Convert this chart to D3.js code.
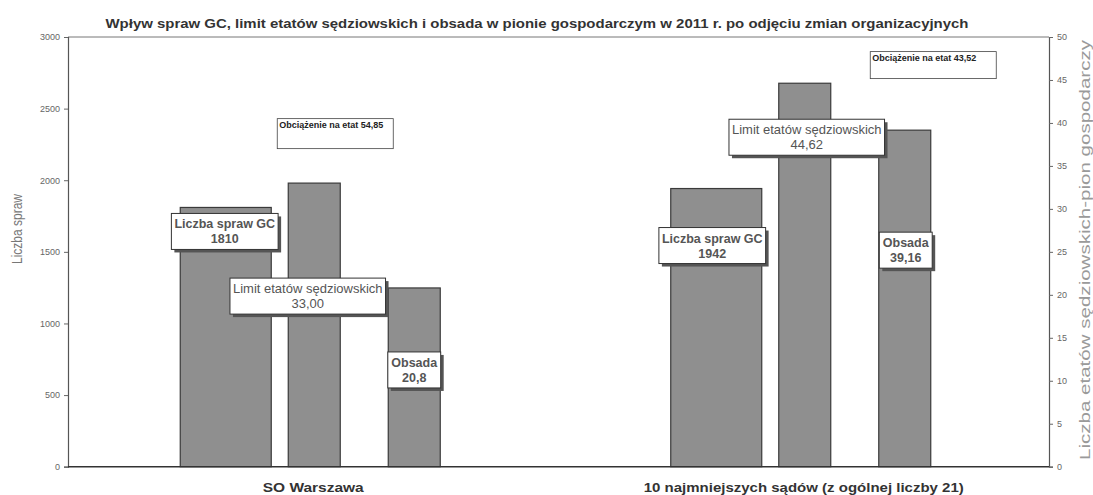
<!DOCTYPE html>
<html><head><meta charset="utf-8">
<script src="https://cdn.jsdelivr.net/npm/d3@7"></script>
<style>
html,body{margin:0;padding:0;background:#fff;}
text{font-family:"Liberation Sans",Arial,sans-serif;}
</style></head>
<body>
<svg id="chart" width="1093" height="495"></svg>
<script>
// ---- data ----
const categories = ["SO Warszawa", "10 najmniejszych sądów (z ogólnej liczby 21)"];
const sprawGC = [1810, 1942];            // left axis
const limitEtatow = [33.00, 44.62];      // right axis
const obsada = [20.8, 39.16];            // right axis
const obciazenie = [54.85, 43.52];
const leftTicks = [0, 500, 1000, 1500, 2000, 2500, 3000];
const rightTicks = [0, 5, 10, 15, 20, 25, 30, 35, 40, 45, 50];
const title = "Wpływ spraw GC, limit etatów sędziowskich i obsada w pionie gospodarczym w 2011 r. po odjęciu zmian organizacyjnych";
const leftTitle = "Liczba spraw";
const rightTitle = "Liczba etatów sędziowskich-pion gospodarczy";

// ---- layout / style ----
const M = {left: 68, right: 1049, top: 37, bottom: 466.7};
const svg = d3.select("#chart");
const x0 = d3.scaleBand().domain(categories).range([M.left, M.right]).padding(0);
const yL = d3.scaleLinear().domain([0, 3000]).range([M.bottom, M.top]);
const yR = d3.scaleLinear().domain([0, 50]).range([M.bottom, M.top]);

const series = [
  {name: "Liczba spraw GC", values: sprawGC, scale: yL, off: -133, w: 91, fmt: v => String(v), bold: true, fs: 12.5,
   lab: [[-1, 24], [-4, 57]]},
  {name: "Limit etatów sędziowskich", values: limitEtatow, scale: yR, off: -25, w: 52, fmt: v => v.toFixed(2).replace(".", ","), bold: false, fs: 13,
   lab: [[-6.5, 113], [2, 54]]},
  {name: "Obsada", values: obsada, scale: yR, off: 75, w: 52, fmt: v => String(v).replace(".", ","), bold: true, fs: 12.5,
   lab: [[0, 82], [1, 120]]}
];
const obcBoxes = [[-36, 2430, 116, 30], [66.5, 2898, 126, 27]]; // dx from band center, y in left-axis units, w, h
const catLabelLen = [101, 320];

// plot frame
svg.append("line").attr("x1", M.left).attr("x2", M.right).attr("y1", M.top).attr("y2", M.top).attr("stroke", "#777").attr("stroke-width", 1);

// bars
series.forEach(s => {
  svg.append("g").selectAll("rect").data(categories).join("rect")
    .attr("x", (c) => x0(c) + x0.bandwidth() / 2 + s.off)
    .attr("width", s.w)
    .attr("y", (c, i) => s.scale(s.values[i]))
    .attr("height", (c, i) => M.bottom - s.scale(s.values[i]))
    .attr("fill", "#8f8f8f")
    .attr("stroke", "#3a3a3a")
    .attr("stroke-width", 1.2);
});

// axes
const axL = svg.append("g").attr("transform", `translate(${M.left},0)`)
  .call(d3.axisLeft(yL).tickValues(leftTicks).tickSize(4).tickPadding(4).tickFormat(d3.format("d")));
const axR = svg.append("g").attr("transform", `translate(${M.right},0)`)
  .call(d3.axisRight(yR).tickValues(rightTicks).tickSize(4).tickPadding(4).tickFormat(d3.format("d")));
[axL, axR].forEach(a => {
  a.select(".domain").attr("stroke", "#555").attr("stroke-width", 1.2);
  a.selectAll(".tick line").attr("stroke", "#666");
  a.selectAll(".tick text").attr("fill", "#666").style("font-size", "9px").style("font-family", "'Liberation Sans',Arial,sans-serif");
});
// bottom axis line
svg.append("line").attr("x1", M.left).attr("x2", M.right).attr("y1", M.bottom).attr("y2", M.bottom).attr("stroke", "#333").attr("stroke-width", 1.5);

// category labels
svg.append("g").selectAll("text").data(categories).join("text")
  .attr("x", c => x0(c) + x0.bandwidth() / 2)
  .attr("y", 492)
  .attr("text-anchor", "middle")
  .attr("fill", "#333")
  .attr("textLength", (c, i) => catLabelLen[i])
  .attr("lengthAdjust", "spacingAndGlyphs")
  .style("font-size", "13.5px").style("font-weight", "bold")
  .text(c => c);

// title
svg.append("text").attr("x", 537).attr("y", 28).attr("text-anchor", "middle")
  .attr("textLength", 863).attr("lengthAdjust", "spacingAndGlyphs")
  .attr("fill", "#333").style("font-size", "13.5px").style("font-weight", "bold").text(title);

// axis titles
svg.append("text").attr("transform", `translate(22,229) rotate(-90)`)
  .attr("text-anchor", "middle").attr("fill", "#777")
  .attr("textLength", 70).attr("lengthAdjust", "spacingAndGlyphs")
  .style("font-size", "15px").text(leftTitle);
svg.append("text").attr("transform", `translate(1090,250) rotate(-90)`)
  .attr("text-anchor", "middle").attr("fill", "#9a9a9a")
  .attr("textLength", 420).attr("lengthAdjust", "spacingAndGlyphs")
  .style("font-size", "14px").text(rightTitle);

// data labels with boxes
series.forEach(s => {
  categories.forEach((c, i) => {
    const cx = x0(c) + x0.bandwidth() / 2 + s.off + s.w / 2 + s.lab[i][0];
    const cy = s.scale(s.values[i]) + s.lab[i][1];
    const g = svg.append("g");
    const t = g.append("text").attr("text-anchor", "middle").attr("fill", "#555")
      .style("font-size", s.fs + "px").style("font-weight", s.bold ? "bold" : "normal");
    t.append("tspan").attr("x", cx).attr("y", cy - 3).text(s.name);
    t.append("tspan").attr("x", cx).attr("y", cy + 12).text(s.fmt(s.values[i]));
    const bb = t.node().getBBox();
    const w = bb.width + 6, h = 36;
    g.insert("rect", "text").attr("x", cx - w / 2 + 3).attr("y", cy - h / 2 + 3).attr("width", w).attr("height", h).attr("fill", "#555");
    g.insert("rect", "text").attr("x", cx - w / 2).attr("y", cy - h / 2).attr("width", w).attr("height", h)
      .attr("fill", "#fff").attr("stroke", "#333").attr("stroke-width", 1);
  });
});

// obciazenie boxes
categories.forEach((c, i) => {
  const b = obcBoxes[i];
  const x = x0(c) + x0.bandwidth() / 2 + b[0];
  const y = yL(b[1]);
  svg.append("rect").attr("x", x).attr("y", y).attr("width", b[2]).attr("height", b[3])
    .attr("fill", "#fff").attr("stroke", "#444").attr("stroke-width", 0.8);
  svg.append("text").attr("x", x + 2).attr("y", y + 9.5).attr("fill", "#222")
    .style("font-size", "9px").style("font-weight", "bold")
    .text("Obciążenie na etat " + obciazenie[i].toFixed(2).replace(".", ","));
});
</script>
</body></html>
